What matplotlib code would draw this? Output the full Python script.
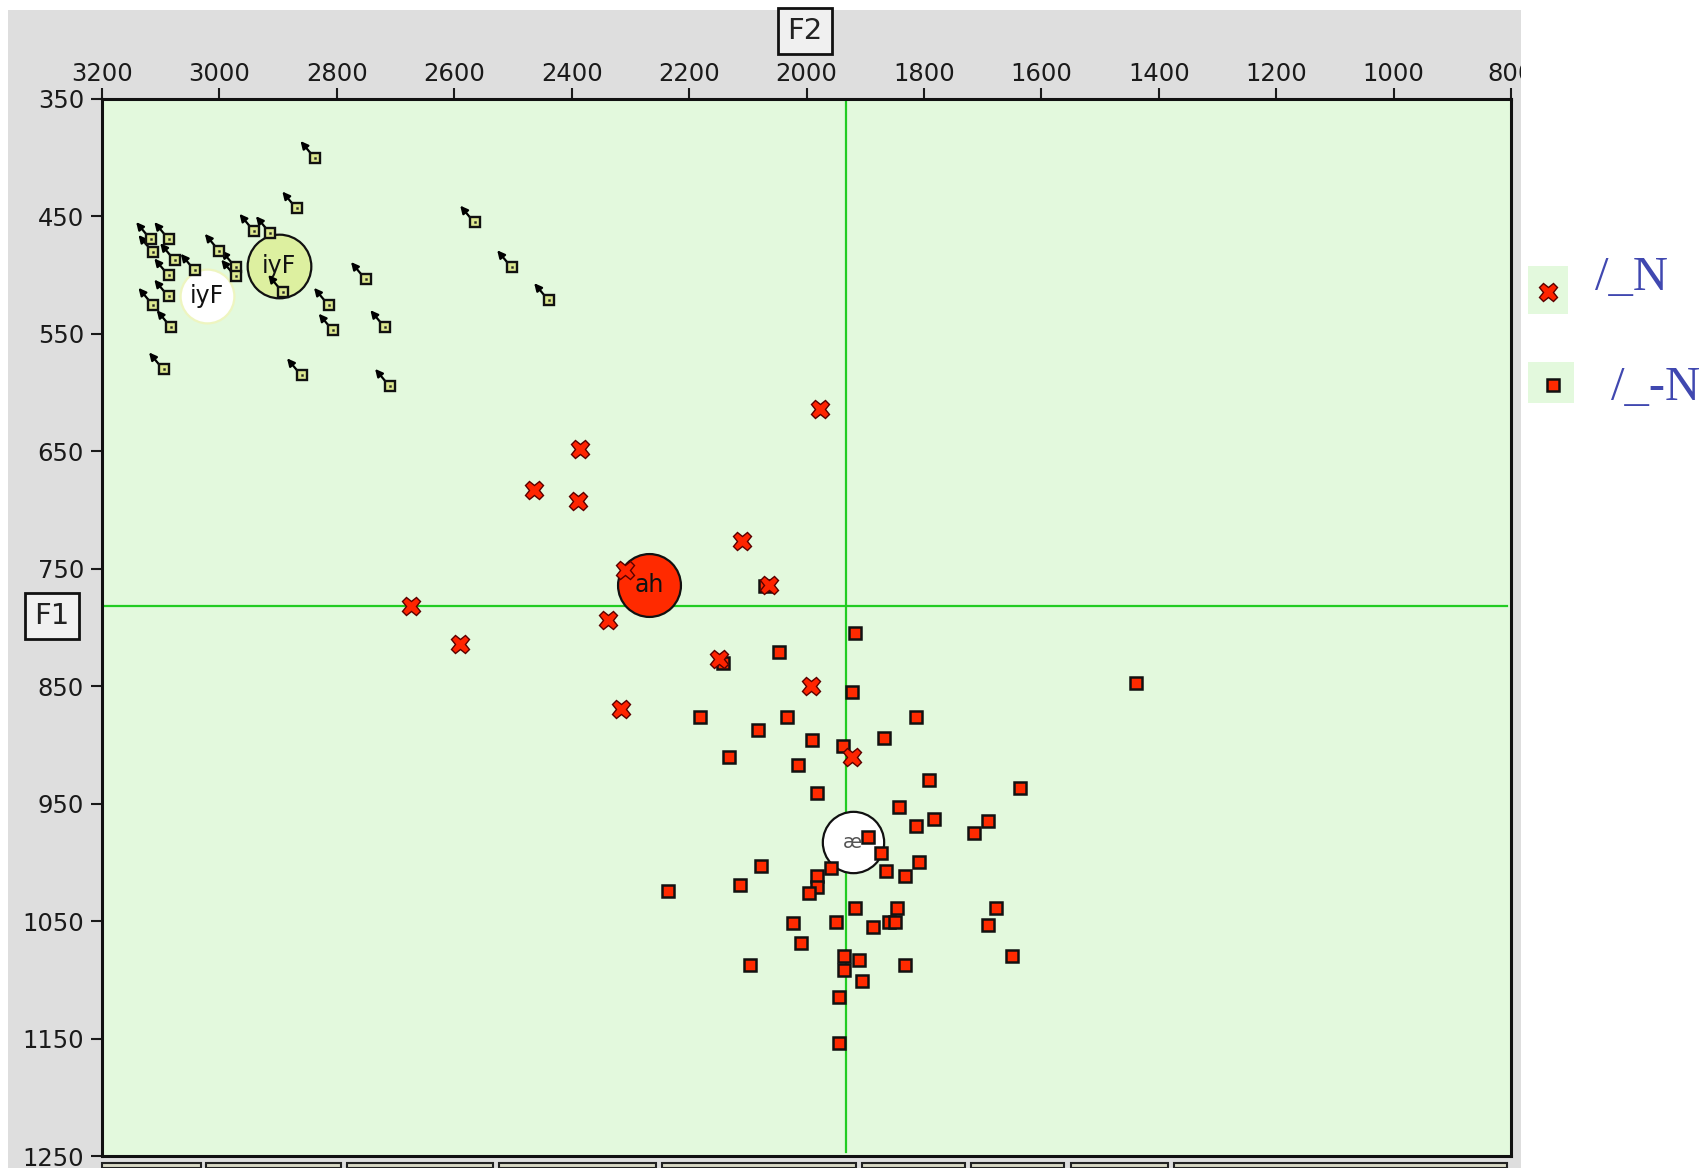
import matplotlib
matplotlib.use("Agg")
import matplotlib.pyplot as plt
from matplotlib.patches import Rectangle
from matplotlib.lines import Line2D
from matplotlib.transforms import offset_copy

# ---------------- data ----------------
x_ticks = [3200, 3000, 2800, 2600, 2400, 2200, 2000, 1800, 1600, 1400, 1200, 1000, 800]
y_ticks = [350, 450, 550, 650, 750, 850, 950, 1050, 1150, 1250]

# iy tokens (F2, F1) with glide arrows
iy_f2 = [2837, 2868, 2565, 2941, 2913, 3117, 3086, 3113, 3000, 3076, 3041, 2972, 2972, 3086,
         2502, 2751, 2892, 3086, 3113, 2439, 2814, 3082, 2806, 2718, 3095, 2860, 2710]
iy_f1 = [400, 443, 455, 462, 464, 469, 469, 480, 479, 487, 496, 493, 501, 500,
         493, 503, 514, 518, 525, 521, 525, 544, 547, 544, 580, 585, 594]

# /_N tokens (x markers)
n_f2 = [1977, 2386, 2464, 2390, 2110, 2309, 2064, 2674, 2338, 2590, 2149, 1992, 2316, 1923]
n_f1 = [614, 648, 683, 692, 726, 751, 764, 782, 794, 814, 827, 850, 869, 910]

# /_-N tokens (squares)
sq_f2 = [2071, 1918, 2046, 2142, 1923, 2182, 2033, 1813, 2082, 1868, 1991, 1937, 2132, 2014,
         1792, 1982, 1842, 1782, 1637, 1814, 1691, 1714, 1895, 1873, 1809, 1959, 1864, 1832,
         1982, 1982, 1996, 1918, 1846, 1677, 1950, 1887, 1860, 1850, 1691, 2010, 1936, 1910,
         1832, 1650, 1936, 1905, 1945, 1438, 1945, 2236, 2114, 2077, 2096, 2023]
sq_f1 = [765, 805, 821, 830, 855, 876, 876, 876, 887, 894, 896, 901, 910, 917,
         930, 941, 953, 963, 937, 969, 965, 975, 978, 992, 1000, 1005, 1007, 1012,
         1012, 1021, 1026, 1039, 1039, 1039, 1051, 1055, 1051, 1051, 1053, 1069, 1080, 1083,
         1087, 1080, 1092, 1101, 1115, 847, 1154, 1024, 1019, 1003, 1087, 1052]

# vowel means
mean_labels = ["iyF", "iyF", "ah", "æ"]
mean_f2 = [3022, 2898, 2268, 1921]
mean_f1 = [518, 492, 764, 983]

crosshair_f2 = 1932
crosshair_f1 = 782

legend_labels = ["/_N", "/_-N"]

# ---------------- figure ----------------
W, H = 1706, 1168
fig = plt.figure(figsize=(W / 100, H / 100), dpi=100)
fig.patch.set_facecolor("white")

def fx(px):
    return px / W

def fy(py):
    return 1 - py / H

# grey window panel
fig.add_artist(Rectangle((fx(8), 0), fx(1521) - fx(8), fy(10), transform=fig.transFigure,
                         facecolor="#dedede", edgecolor="none", zorder=-5))

ax = fig.add_axes([fx(102), fy(1156), fx(1511) - fx(102), fy(99) - fy(1156)])
ax.set_facecolor("#e3f9dd")
ax.set_xlim(3200, 800)
ax.set_ylim(1250, 350)
ax.xaxis.tick_top()
ax.set_xticks(x_ticks)
ax.set_xticklabels([str(v) for v in x_ticks])
ax.set_yticks(y_ticks)
ax.set_yticklabels([str(v) for v in y_ticks])
ax.tick_params(axis="x", direction="out", length=8, width=1.5, pad=1.5, labelsize=17.5,
               colors="#1a1a1a", top=True, bottom=False)
ax.tick_params(axis="y", direction="out", length=8, width=1.5, pad=5, labelsize=17.5,
               colors="#1a1a1a", left=True, right=False)
for s in ax.spines.values():
    s.set_linewidth(2.2)
    s.set_color("#111111")

# crosshair
ax.axhline(crosshair_f1, xmin=0, xmax=0.997, color="#22cc22", lw=1.6, zorder=1)
ax.axvline(crosshair_f2, ymin=0.004, ymax=1, color="#22cc22", lw=1.6, zorder=1)

# means (drawn under tokens)
mean_face = ["white", "#ddf0a0", "#ff2a00", "white"]
mean_edge = ["#eef5c0", "#111111", "#111111", "#111111"]
mean_size = [1500, 2100, 2050, 1950]
for lab, f2, f1, fc, ec, s in zip(mean_labels, mean_f2, mean_f1, mean_face, mean_edge, mean_size):
    ax.scatter([f2], [f1], s=s, facecolor=fc, edgecolor=ec, linewidth=1.6, zorder=2)
    col = "#555555" if lab == "æ" else "#111111"
    fs = 14 if lab == "æ" else 17
    ax.text(f2, f1, lab, ha="center", va="center", fontsize=fs, color=col, zorder=2.5)

# iy tokens with glide arrows
head_tr = offset_copy(ax.transData, fig=fig, x=-10.5, y=12, units="points")
tail_tr = offset_copy(ax.transData, fig=fig, x=-3, y=3, units="points")
for f2, f1 in zip(iy_f2, iy_f1):
    ax.annotate("", xy=(f2, f1), xycoords=head_tr, xytext=(f2, f1), textcoords=tail_tr,
                arrowprops=dict(arrowstyle="-|>", color="black", lw=1.6, mutation_scale=11,
                                shrinkA=0, shrinkB=0), zorder=3)
ax.plot(iy_f2, iy_f1, ls="none", marker="s", markersize=7, markerfacecolor="#dde890",
        markeredgecolor="#111111", markeredgewidth=1.7, zorder=3)
ax.plot(iy_f2, iy_f1, ls="none", marker="s", markersize=1.4, markerfacecolor="#222222",
        markeredgecolor="#222222", markeredgewidth=0.3, zorder=3.1)

# /_-N squares
ax.plot(sq_f2, sq_f1, ls="none", marker="s", markersize=8.5, markerfacecolor="#ff2a00",
        markeredgecolor="#111111", markeredgewidth=1.8, zorder=4)
# /_N crosses
ax.plot(n_f2, n_f1, ls="none", marker="X", markersize=13, markerfacecolor="#ff2400",
        markeredgecolor="#5a0000", markeredgewidth=1.0, zorder=5)

# axis name boxes
fig.text(fx(805), fy(31), "F2", ha="center", va="center", fontsize=21, color="#222222",
         bbox=dict(boxstyle="square,pad=0.32", facecolor="#f0f0f0", edgecolor="#111111", lw=2),
         zorder=3)
fig.text(fx(52), fy(616), "F1", ha="center", va="center", fontsize=21, color="#222222",
         bbox=dict(boxstyle="square,pad=0.32", facecolor="#f0f0f0", edgecolor="#111111", lw=2),
         zorder=3)

# bottom tab strip
tabs = [(102, 201), (206, 341), (347, 493), (499, 656), (662, 856), (862, 965),
        (971, 1064), (1071, 1168), (1174, 1507)]
for a, b in tabs:
    fig.add_artist(Rectangle((fx(a), 0), fx(b) - fx(a), fy(1163), transform=fig.transFigure,
                             facecolor="#d8d8c4", edgecolor="#222222", lw=1.5, zorder=1))

# white area to the right of window (clips the last tick label)
fig.add_artist(Rectangle((fx(1521), 0), 1 - fx(1521), 1, transform=fig.transFigure,
                         facecolor="white", edgecolor="none", zorder=1))

# legend
fig.add_artist(Rectangle((fx(1528), fy(314)), fx(1568) - fx(1528), fy(266) - fy(314),
                         transform=fig.transFigure, facecolor="#e3f9dd", edgecolor="none", zorder=2))
fig.add_artist(Rectangle((fx(1528), fy(403)), fx(1574) - fx(1528), fy(362) - fy(403),
                         transform=fig.transFigure, facecolor="#e3f9dd", edgecolor="none", zorder=2))
fig.add_artist(Line2D([fx(1548)], [fy(292)], transform=fig.transFigure, ls="none", marker="X",
                      markersize=13, markerfacecolor="#ff2400", markeredgecolor="#5a0000",
                      markeredgewidth=1.0, zorder=3))
fig.add_artist(Line2D([fx(1553)], [fy(385)], transform=fig.transFigure, ls="none", marker="s",
                      markersize=8.5, markerfacecolor="#ff2a00", markeredgecolor="#111111",
                      markeredgewidth=1.8, zorder=3))
fig.text(fx(1595), fy(290), legend_labels[0], ha="left", va="baseline", fontsize=35,
         family="Liberation Serif", color="#4048b0", zorder=3)
fig.text(fx(1611), fy(400), legend_labels[1], ha="left", va="baseline", fontsize=35,
         family="Liberation Serif", color="#4048b0", zorder=3)

fig.savefig("out.png", dpi=100)
